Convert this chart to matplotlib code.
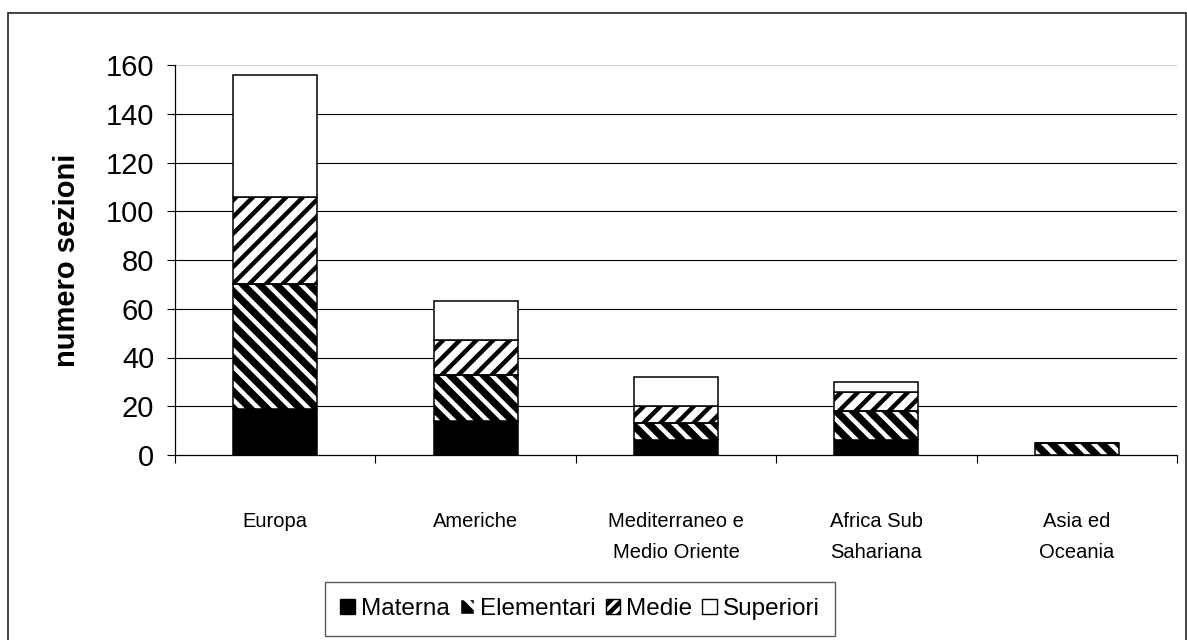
import matplotlib
matplotlib.use("Agg")
import matplotlib.pyplot as plt
import matplotlib.patches as mpatches
import numpy as np

plt.rcParams["font.family"] = ["Liberation Sans", "DejaVu Sans"]

categories = ["Europa", "Americhe", "Mediterraneo e\nMedio Oriente",
              "Africa Sub\nSahariana", "Asia ed\nOceania"]
materna = [19, 14, 6, 6, 0]
elementari = [51, 19, 7, 12, 5]
medie = [36, 14, 7, 8, 0]
superiori = [50, 16, 12, 4, 0]
yticks = [0, 20, 40, 60, 80, 100, 120, 140, 160]

x = np.arange(len(categories))
width = 0.42
edge_lw = 1.1

fig = plt.figure(figsize=(11.87, 6.4), dpi=100)
ax = fig.add_axes([175 / 1187, 1 - 455 / 640, 1002 / 1187, 390 / 640])

# figure frame
fig.patches.append(mpatches.Rectangle((8 / 1187, -0.05), 1177.5 / 1187, 0.05 + 1 - 13 / 640,
                                      transform=fig.transFigure, fill=False,
                                      edgecolor="#222222", linewidth=1.2, zorder=0))

# gridlines
for v in yticks[1:-1]:
    ax.axhline(v, color="black", linewidth=0.8, zorder=0)
ax.axhline(160, color="#d0d0d0", linewidth=0.8, zorder=0)

bottom = np.zeros(len(categories))
plt.rcParams["hatch.linewidth"] = 3.2

# Materna: solid black
ax.bar(x, materna, width, bottom=bottom, color="black", edgecolor="black",
       linewidth=edge_lw, zorder=2)
bottom += materna

# Elementari: black with white diagonal stripes
ax.bar(x, elementari, width, bottom=bottom, color="black", edgecolor="white",
       hatch="\\\\", linewidth=0, zorder=2)
ax.bar(x, elementari, width, bottom=bottom, fill=False, edgecolor="black",
       linewidth=edge_lw, zorder=3)
bottom += elementari

# Medie: white with black diagonal stripes
ax.bar(x, medie, width, bottom=bottom, color="white", edgecolor="black",
       hatch="//", linewidth=edge_lw, zorder=2)
bottom += medie

# Superiori: white
ax.bar(x, superiori, width, bottom=bottom, color="white", edgecolor="black",
       linewidth=edge_lw, zorder=2)

ax.set_xlim(-0.5, len(categories) - 0.5)
ax.set_ylim(0, 160)
ax.set_yticks(yticks)
ax.tick_params(axis="y", labelsize=21, length=6, width=0.8, pad=9, direction="out")

ax.set_xticks(x)
ax.set_xticklabels(categories, fontsize=14.5, linespacing=1.78, va="top")
ax.tick_params(axis="x", length=0, pad=41)
ax.set_xticks(np.arange(len(categories) + 1) - 0.5, minor=True)
ax.tick_params(axis="x", which="minor", length=6, width=0.8, direction="out")

for side in ["top", "right"]:
    ax.spines[side].set_visible(False)
ax.spines["left"].set_linewidth(0.9)
ax.spines["bottom"].set_linewidth(0.9)

ax.set_ylabel("numero sezioni", fontsize=21, fontweight="bold", labelpad=18)

handles = [
    mpatches.Patch(facecolor="black", edgecolor="black", label="Materna"),
    mpatches.Patch(facecolor="black", edgecolor="white", hatch="\\", label="Elementari"),
    mpatches.Patch(facecolor="white", edgecolor="black", hatch="///", label="Medie"),
    mpatches.Patch(facecolor="white", edgecolor="black", label="Superiori"),
]
leg = fig.legend(handles=handles, loc="center", bbox_to_anchor=(580 / 1187, 1 - 609 / 640),
                 ncol=4, fontsize=17.5, frameon=True, fancybox=False, edgecolor="#333333",
                 handlelength=0.6, handleheight=0.6, handletextpad=0.25,
                 columnspacing=0.4, borderpad=0.65, borderaxespad=0)
leg.get_frame().set_linewidth(1.0)

fig.savefig("out.png", dpi=100)
